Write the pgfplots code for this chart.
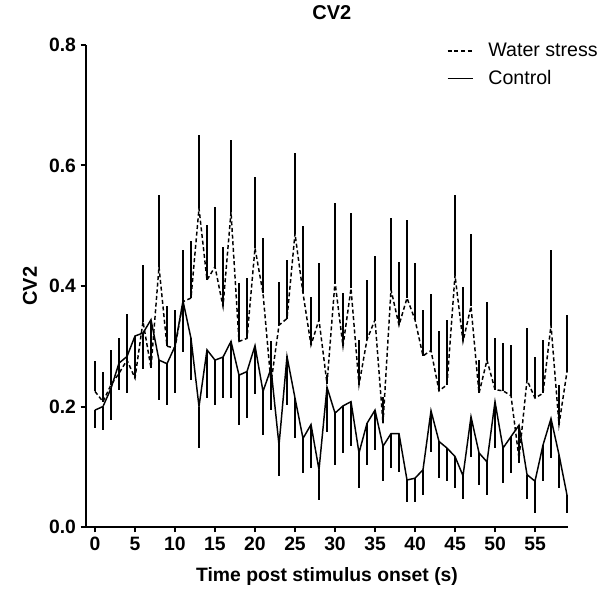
\documentclass[border=0pt]{standalone}
\usepackage{pgfplots}
\pgfplotsset{compat=1.18}
\usepackage{pgfplotstable}
\usepackage{fontspec}
\setmainfont{Liberation Sans}

\pgfplotstableread{
x ws wse c ce
0 0.225 0.050 0.194 0.030
1 0.208 0.050 0.200 0.039
2 0.236 0.058 0.230 0.052
3 0.255 0.058 0.272 0.044
4 0.277 0.076 0.283 0.061
5 0.247 0.042 0.317 0.050
6 0.341 0.094 0.322 0.059
7 0.264 0.066 0.344 0.060
8 0.432 0.119 0.277 0.066
9 0.300 0.066 0.271 0.068
10 0.297 0.063 0.300 0.078
11 0.374 0.086 0.375 0.084
12 0.380 0.094 0.313 0.069
13 0.529 0.122 0.200 0.069
14 0.410 0.091 0.294 0.080
15 0.432 0.099 0.277 0.074
16 0.366 0.099 0.282 0.068
17 0.523 0.119 0.308 0.094
18 0.308 0.097 0.252 0.082
19 0.313 0.100 0.258 0.077
20 0.463 0.118 0.301 0.080
21 0.388 0.091 0.225 0.072
22 0.239 0.069 0.263 0.069
23 0.335 0.071 0.136 0.051
24 0.346 0.097 0.283 0.080
25 0.487 0.133 0.214 0.067
26 0.388 0.111 0.147 0.058
27 0.302 0.080 0.170 0.072
28 0.344 0.094 0.095 0.050
29 0.238 0.015 0.232 0.075
30 0.407 0.130 0.189 0.086
31 0.300 0.088 0.201 0.078
32 0.396 0.125 0.208 0.074
33 0.236 0.075 0.123 0.059
34 0.311 0.099 0.172 0.069
35 0.344 0.106 0.194 0.066
36 0.172 0.044 0.134 0.058
37 0.394 0.119 0.155 0.057
38 0.335 0.105 0.155 0.063
39 0.380 0.129 0.078 0.037
40 0.344 0.094 0.081 0.040
41 0.284 0.076 0.095 0.042
42 0.293 0.094 0.193 0.068
43 0.226 0.100 0.142 0.061
44 0.236 0.107 0.131 0.055
45 0.418 0.133 0.117 0.053
46 0.308 0.091 0.085 0.039
47 0.366 0.121 0.183 0.066
48 0.222 0.055 0.123 0.053
49 0.277 0.097 0.108 0.055
50 0.228 0.085 0.208 0.077
51 0.226 0.080 0.131 0.058
52 0.218 0.084 0.150 0.060
53 0.114 0.050 0.169 0.063
54 0.244 0.086 0.087 0.041
55 0.214 0.068 0.076 0.052
56 0.222 0.089 0.136 0.060
57 0.335 0.125 0.180 0.066
58 0.170 0.066 0.120 0.056
59 0.258 0.094 0.053 0.029
}\data

\begin{document}
\begin{tikzpicture}
\begin{axis}[
  at={(0,0)}, anchor=south west,
  scale only axis, width=361.5pt, height=361.5pt,
  xmin=-1.125, xmax=59.125, ymin=0, ymax=0.8,
  axis lines=left,
  axis line style={-, line width=1.5pt, black},
  tick pos=left, tick align=outside,
  major tick length=4pt,
  every tick/.style={line width=1.5pt, black},
  xtick={0,5,...,55},
  ytick={0,0.2,0.4,0.6,0.8},
  /pgf/number format/assume math mode=true,
  yticklabel style={/pgf/number format/.cd, fixed, fixed zerofill, precision=1},
  tick label style={font=\bfseries\fontsize{14.5}{16}\selectfont},
  title={CV2},
  title style={at={(axis description cs:0.51,1.037)}, anchor=base, font=\bfseries\fontsize{15}{17}\selectfont},
  xlabel={Time post stimulus onset (s)},
  xlabel style={at={(axis description cs:0.5,-0.114)}, anchor=base, font=\bfseries\fontsize{14.5}{16}\selectfont},
  ylabel={CV2},
  ylabel style={at={(axis description cs:-0.102,0.5)}, anchor=base, font=\bfseries\fontsize{15}{17}\selectfont},
  legend style={at={(axis description cs:0.74,1.015)}, anchor=north west, draw=none, fill=none,
    font=\fontsize{14.7}{17}\selectfont, row sep=4.5pt},
  legend cell align=left,
  legend image code/.code={\draw[#1] (0pt,0pt) -- (19pt,0pt); \path (28pt,0pt);},
  clip=false,
]
\addplot[black, line width=1.1pt, dash pattern=on 3pt off 2pt,
  error bars/.cd, y dir=plus, y explicit, error mark=none,
  error bar style={line width=1.2pt, solid}]
  table[x=x, y=ws, y error plus=wse] {\data};
\addlegendentry{Water stress}
\addplot[black, line width=1.1pt,
  error bars/.cd, y dir=minus, y explicit, error mark=none,
  error bar style={line width=1.2pt, solid}]
  table[x=x, y=c, y error minus=ce] {\data};
\addlegendentry{Control}
\end{axis}
\pgfresetboundingbox
\useasboundingbox (-64.5pt,-49.5pt) rectangle (385.5pt,395.25pt);
\end{tikzpicture}
\end{document}
